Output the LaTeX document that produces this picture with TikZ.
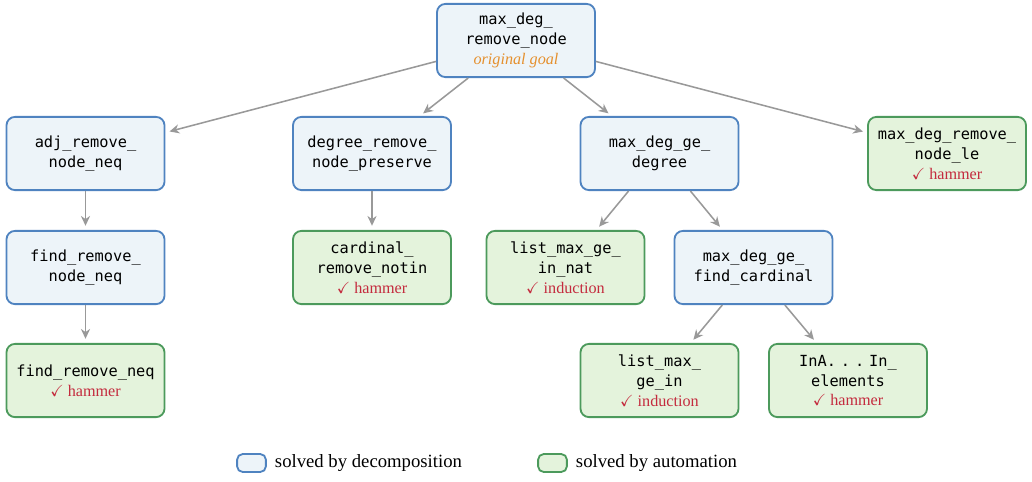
\documentclass[tikz,border=0pt]{standalone}
\usepackage{amsmath,amssymb}
\usepackage{xcolor}
\usepackage{fontspec}
\setmainfont{Liberation Serif}
\setmonofont{DejaVu Sans Mono}
\usepackage{tikz}
\usetikzlibrary{positioning,arrows.meta}

\definecolor{boxblue}{HTML}{4F83C0}
\definecolor{fillblue}{HTML}{EDF4F9}
\definecolor{boxgreen}{HTML}{4C9A5C}
\definecolor{fillgreen}{HTML}{E4F3DC}
\definecolor{okred}{HTML}{C42B3E}
\definecolor{goalorange}{HTML}{E5902E}
\definecolor{arrowgray}{HTML}{999999}

\newcommand{\byhow}[1]{{\rmfamily\fontsize{11.5pt}{14.2pt}\selectfont\textcolor{okred}{$\checkmark$\ #1}}}

\begin{document}
\begin{tikzpicture}[
    decomp/.style={draw=boxblue, fill=fillblue, line width=1.3pt, rounded corners=6pt,
        minimum width=3.95cm, minimum height=1.83cm, align=center,
        font=\fontsize{10.9pt}{14.2pt}\selectfont\ttfamily},
    automat/.style={decomp, draw=boxgreen, fill=fillgreen},
    keybox/.style={line width=1.3pt, rounded corners=4pt, minimum width=0.72cm, minimum height=0.45cm},
    link/.style={draw=arrowgray, line width=1.1pt, -{Stealth[length=7pt,width=6.5pt]}, shorten >=3pt}
  ]
    \useasboundingbox (0,0) rectangle (25.8,-12.025);
    % Goal
    \node[decomp] (root) at (12.9,-1.0125) {max\_deg\_\\remove\_node\\{\rmfamily\itshape\fontsize{11.5pt}{14.2pt}\selectfont\textcolor{goalorange}{original goal}}};
    % First level
    \node[decomp] (adj) at (2.1375,-3.8375) {adj\_remove\_\\node\_neq};
    \node[decomp] (degpres) at (9.3,-3.8375) {degree\_remove\_\\node\_preserve};
    \node[decomp] (gedeg) at (16.4875,-3.8375) {max\_deg\_ge\_\\degree};
    \node[automat] (remle) at (23.675,-3.8375) {max\_deg\_remove\_\\node\_le\\\byhow{hammer}};
    % Second level
    \node[decomp] (findnode) at (2.1375,-6.6875) {find\_remove\_\\node\_neq};
    \node[automat] (cardnotin) at (9.3,-6.6875) {cardinal\_\\remove\_notin\\\byhow{hammer}};
    \node[automat] (innat) at (14.1375,-6.6875) {list\_max\_ge\_\\in\_nat\\\byhow{induction}};
    \node[decomp] (findcard) at (18.8375,-6.6875) {max\_deg\_ge\_\\find\_cardinal};
    % Third level
    \node[automat] (findneq) at (2.1375,-9.5125) {find\_remove\_neq\\\byhow{hammer}};
    \node[automat] (gein) at (16.4875,-9.5125) {list\_max\_\\ge\_in\\\byhow{induction}};
    \node[automat] (inelem) at (21.2,-9.5125) {InA.\kern3.5pt.\kern3.5pt.\kern3.5pt In\_\\elements\\\byhow{hammer}};
    % Edges
    \draw[link] (root) -- (adj);
    \draw[link] (root) -- (degpres);
    \draw[link] (root) -- (gedeg);
    \draw[link] (root) -- (remle);
    \draw[link] (adj) -- (findnode);
    \draw[link] (findnode) -- (findneq);
    \draw[link] (degpres) -- (cardnotin);
    \draw[link] (gedeg) -- (innat);
    \draw[link] (gedeg) -- (findcard);
    \draw[link] (findcard) -- (gein);
    \draw[link] (findcard) -- (inelem);
    % Legend
    \node[keybox, draw=boxblue, fill=fillblue] (keyblue) at (6.2875,-11.575) {};
    \node[right=0.08cm of keyblue, font=\fontsize{13.3pt}{15pt}\selectfont] (keybluetext) {solved by decomposition};
    \node[keybox, draw=boxgreen, fill=fillgreen] (keygreen) at (13.8125,-11.575) {};
    \node[right=0.08cm of keygreen, font=\fontsize{13.3pt}{15pt}\selectfont] (keygreentext) {solved by automation};
\end{tikzpicture}
\end{document}
